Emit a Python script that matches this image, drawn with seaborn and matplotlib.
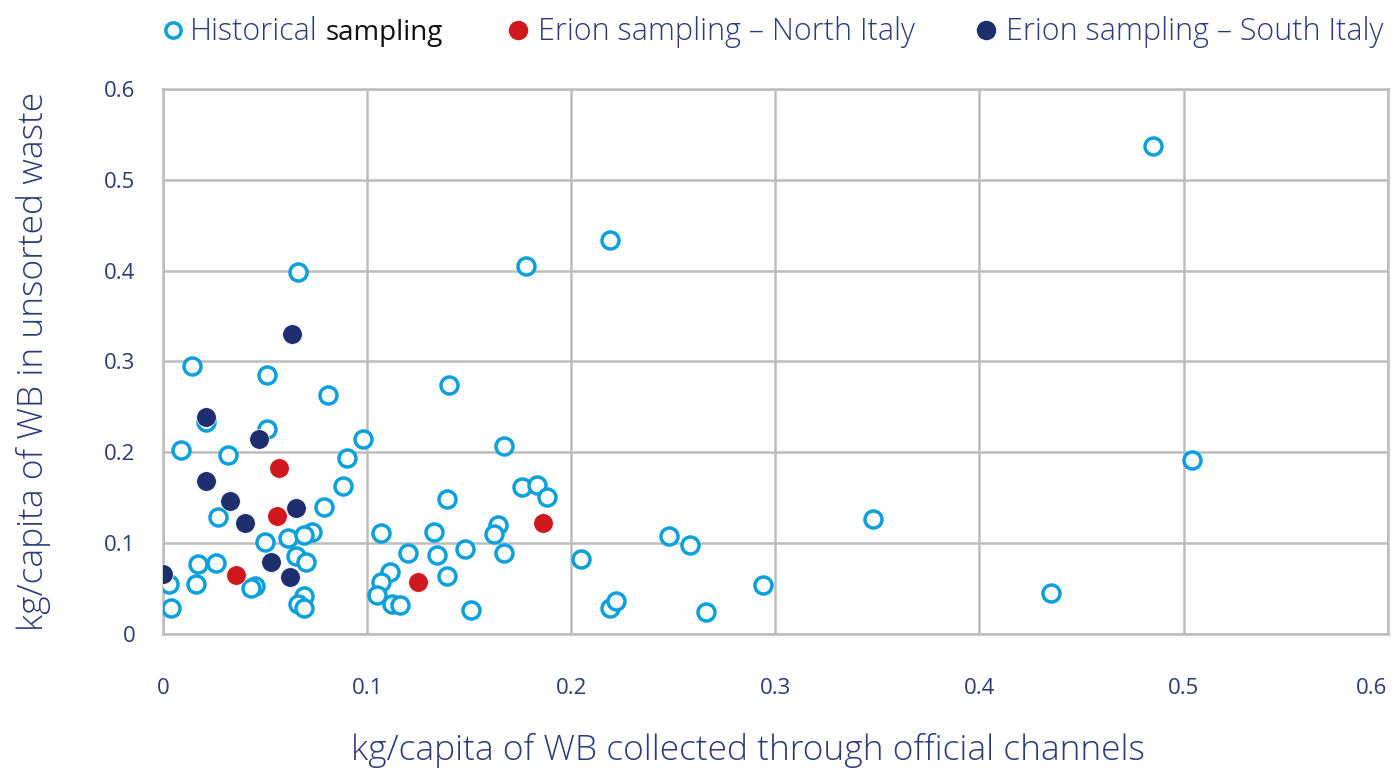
import pandas as pd
import matplotlib.pyplot as plt
import seaborn as sns
from matplotlib.lines import Line2D

# Historical sampling (open circles)
hist_x = [0.485, 0.219, 0.178, 0.066, 0.014, 0.051, 0.140, 0.081, 0.021, 0.051,
          0.098, 0.009, 0.032, 0.090, 0.167, 0.504, 0.088, 0.176, 0.183, 0.188,
          0.139, 0.079, 0.027, 0.348, 0.107, 0.133, 0.164, 0.162, 0.050, 0.061,
          0.073, 0.069, 0.248, 0.258, 0.120, 0.134, 0.148, 0.167, 0.205, 0.065,
          0.070, 0.017, 0.026, 0.003, 0.016, 0.045, 0.043, 0.004, 0.069, 0.066,
          0.069, 0.111, 0.107, 0.105, 0.112, 0.116, 0.139, 0.151, 0.219, 0.222,
          0.266, 0.294, 0.435]
hist_y = [0.537, 0.434, 0.405, 0.399, 0.295, 0.285, 0.274, 0.263, 0.233, 0.226,
          0.215, 0.202, 0.197, 0.194, 0.207, 0.192, 0.163, 0.162, 0.164, 0.151,
          0.149, 0.140, 0.129, 0.126, 0.111, 0.112, 0.120, 0.110, 0.101, 0.106,
          0.112, 0.109, 0.108, 0.098, 0.089, 0.087, 0.093, 0.089, 0.083, 0.086,
          0.079, 0.077, 0.078, 0.055, 0.055, 0.053, 0.050, 0.029, 0.042, 0.033,
          0.029, 0.068, 0.057, 0.043, 0.033, 0.032, 0.064, 0.026, 0.028, 0.036,
          0.024, 0.054, 0.045]

# Erion sampling - North Italy
north_x = [0.057, 0.056, 0.036, 0.125, 0.186]
north_y = [0.183, 0.130, 0.065, 0.057, 0.122]

# Erion sampling - South Italy
south_x = [0.063, 0.021, 0.047, 0.021, 0.033, 0.065, 0.040, 0.053, 0.062, 0.000]
south_y = [0.330, 0.239, 0.215, 0.168, 0.146, 0.139, 0.122, 0.079, 0.063, 0.066]

ticks = [0, 0.1, 0.2, 0.3, 0.4, 0.5, 0.6]
tick_labels = ["0", "0.1", "0.2", "0.3", "0.4", "0.5", "0.6"]

cyan = "#0AA0DC"
red = "#D0191E"
navy = "#1F2E6E"
text_col = "#2B3A78"

sns.set_style("white")
plt.rcParams['font.family'] = ['Open Sans', 'DejaVu Sans']

hist_df = pd.DataFrame({"x": hist_x, "y": hist_y})
north_df = pd.DataFrame({"x": north_x, "y": north_y})
south_df = pd.DataFrame({"x": south_x, "y": south_y})

fig = plt.figure(figsize=(13.98, 7.74), dpi=100)
ax = fig.add_axes([0.1166, 0.181, 0.876, 0.704])

sns.scatterplot(data=hist_df, x="x", y="y", ax=ax, s=150, facecolor="white",
                edgecolor=cyan, linewidth=2.5, zorder=3)
sns.scatterplot(data=north_df, x="x", y="y", ax=ax, s=200, color=red,
                edgecolor="white", linewidth=0.5, zorder=4)
sns.scatterplot(data=south_df, x="x", y="y", ax=ax, s=200, color=navy,
                edgecolor="white", linewidth=0.5, zorder=5)

ax.set_xlim(0, 0.6)
ax.set_ylim(0, 0.6)
ax.set_xticks(ticks)
ax.set_xticklabels(tick_labels)
ax.set_yticks(ticks)
ax.set_yticklabels(tick_labels)
ax.get_xticklabels()[-1].set_horizontalalignment("right")
ax.grid(True, color="#BDBDBD", linewidth=1.8)
ax.set_axisbelow(True)
for sp in ax.spines.values():
    sp.set_color("#BDBDBD")
    sp.set_linewidth(1.8)
ax.tick_params(axis="x", length=0, pad=32, labelsize=16, labelcolor=text_col)
ax.tick_params(axis="y", length=0, pad=20, labelsize=16, labelcolor=text_col)
ax.set_xlabel("kg/capita of WB collected through official channels", fontsize=25.5,
              color=text_col, labelpad=24, fontweight="light", x=0.478)
ax.set_ylabel("kg/capita of WB in unsorted waste", fontsize=25.5,
              color=text_col, labelpad=38, fontweight="light")

# legend drawn along the top, like the original
leg_y = 1 - 30 / 774
base_y = 1 - 40 / 774
fig.add_artist(Line2D([173 / 1398], [leg_y], marker="o", linestyle="", markersize=11,
                      markerfacecolor="white", markeredgecolor=cyan, markeredgewidth=2.5,
                      transform=fig.transFigure))
fig.add_artist(Line2D([518 / 1398], [leg_y], marker="o", linestyle="", markersize=13,
                      color=red, transform=fig.transFigure))
fig.add_artist(Line2D([986 / 1398], [leg_y], marker="o", linestyle="", markersize=13,
                      color=navy, transform=fig.transFigure))
t_hist = fig.text(190 / 1398, base_y, "Historical", fontsize=22, color=text_col,
                  va="baseline", fontweight="light")
fig.text(538 / 1398, base_y, "Erion sampling \u2013 North Italy", fontsize=22,
         color=text_col, va="baseline", fontweight="light")
fig.text(1006 / 1398, base_y, "Erion sampling \u2013 South Italy", fontsize=22,
         color=text_col, va="baseline", fontweight="light")

fig.canvas.draw()
bb = t_hist.get_window_extent()
fig.text((bb.x1 + 8) / 1398, base_y, "sampling", fontsize=20, color="#111111",
         va="baseline")

fig.savefig("out.png", dpi=100)
